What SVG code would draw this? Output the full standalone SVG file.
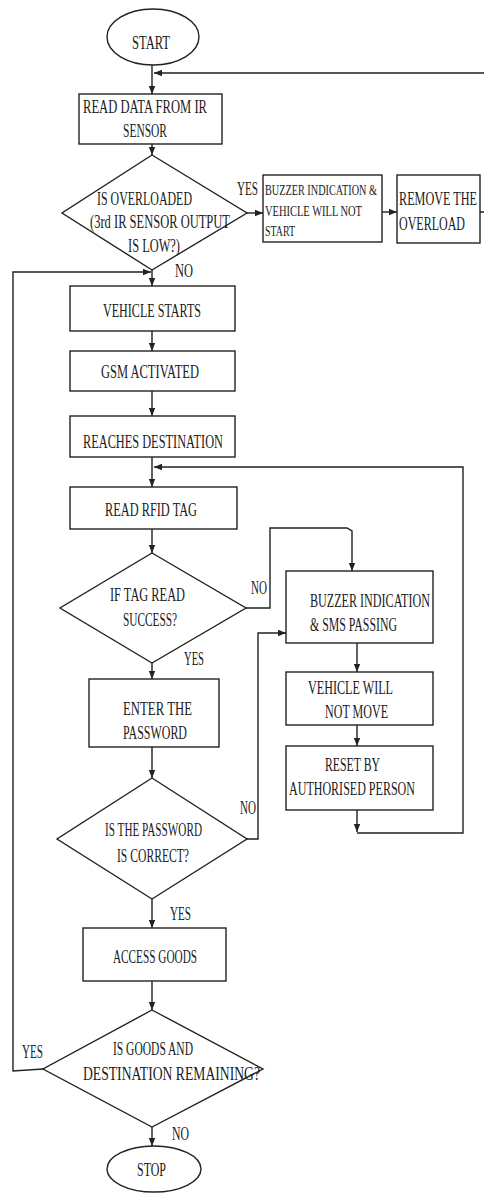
<svg xmlns="http://www.w3.org/2000/svg" width="484" height="1193" viewBox="0 0 484 1193">
<defs>
<style>
.s{fill:#fff;stroke:#222;stroke-width:1.4}
.c{fill:none;stroke:#222;stroke-width:1.4}
text{font-family:"Liberation Serif","Times New Roman",serif;font-size:19px;fill:#1a1a1a}
.sm{font-size:15px}
</style>
<marker id="a" markerUnits="userSpaceOnUse" markerWidth="8" markerHeight="8" viewBox="0 0 8 8" refX="8" refY="4" orient="auto">
<path d="M0,0.8 L8,4 L0,7.2 Z" fill="#222"/>
</marker>
</defs>
<rect width="484" height="1193" fill="#fff"/>
<g id="connectors">
<path class="c" d="M152,65 V94" marker-end="url(#a)"/>
<path class="c" d="M480,212 H487 V73 H154" marker-end="url(#a)"/>
<path class="c" d="M152,144 V155" marker-end="url(#a)"/>
<path class="c" d="M247,213 H263" marker-end="url(#a)"/>
<path class="c" d="M382,212 H397" marker-end="url(#a)"/>
<path class="c" d="M152,270 V286" marker-end="url(#a)"/>
<path class="c" d="M43,1069 L13,1071 V272 H151" marker-end="url(#a)"/>
<path class="c" d="M152,331 V351" marker-end="url(#a)"/>
<path class="c" d="M152,391 V416" marker-end="url(#a)"/>
<path class="c" d="M152,457 V487" marker-end="url(#a)"/>
<path class="c" d="M357,810 V832" marker-end="url(#a)"/>
<path class="c" d="M357,833 H463 V467 H154" marker-end="url(#a)"/>
<path class="c" d="M152,529 V553" marker-end="url(#a)"/>
<path class="c" d="M246,608 H270 V528 H347 L352,531 V571" marker-end="url(#a)"/>
<path class="c" d="M152,663 V679" marker-end="url(#a)"/>
<path class="c" d="M357,643 V672" marker-end="url(#a)"/>
<path class="c" d="M357,725 V746" marker-end="url(#a)"/>
<path class="c" d="M152,747 V778" marker-end="url(#a)"/>
<path class="c" d="M247,839 H258 V633 H286" marker-end="url(#a)"/>
<path class="c" d="M152,899 V928" marker-end="url(#a)"/>
<path class="c" d="M152,981 V1010" marker-end="url(#a)"/>
<path class="c" d="M152,1127 V1146" marker-end="url(#a)"/>
</g>
<g id="start">
<ellipse class="s" cx="153" cy="37" rx="46" ry="28"/>
<text x="132" y="49" textLength="38" lengthAdjust="spacingAndGlyphs">START</text>
</g>
<g id="read-ir">
<rect class="s" x="79" y="94" width="143" height="50"/>
<text x="83" y="113" textLength="124" lengthAdjust="spacingAndGlyphs">READ DATA FROM IR</text>
<text x="123" y="137" textLength="44" lengthAdjust="spacingAndGlyphs">SENSOR</text>
</g>
<g id="overloaded">
<polygon class="s" points="152,155 247,213 152,270 62,213"/>
<text x="97" y="205" textLength="95" lengthAdjust="spacingAndGlyphs">IS OVERLOADED</text>
<text x="90" y="228" textLength="140" lengthAdjust="spacingAndGlyphs">(3rd IR SENSOR OUTPUT</text>
<text x="128" y="252" textLength="52" lengthAdjust="spacingAndGlyphs">IS LOW?)</text>
<text x="237" y="195" textLength="21" lengthAdjust="spacingAndGlyphs">YES</text>
<text x="175" y="277" textLength="18" lengthAdjust="spacingAndGlyphs">NO</text>
</g>
<g id="buzzer-start">
<rect class="s" x="263" y="175" width="119" height="67"/>
<text class="sm" x="265" y="195" textLength="112" lengthAdjust="spacingAndGlyphs">BUZZER INDICATION &amp;</text>
<text class="sm" x="265" y="216" textLength="97" lengthAdjust="spacingAndGlyphs">VEHICLE WILL NOT</text>
<text class="sm" x="265" y="236" textLength="30" lengthAdjust="spacingAndGlyphs">START</text>
</g>
<g id="remove-overload">
<rect class="s" x="397" y="175" width="83" height="68"/>
<text x="399" y="205" textLength="78" lengthAdjust="spacingAndGlyphs">REMOVE THE</text>
<text x="399" y="230" textLength="66" lengthAdjust="spacingAndGlyphs">OVERLOAD</text>
</g>
<g id="vehicle-starts">
<rect class="s" x="70" y="286" width="165" height="45"/>
<text x="103" y="317" textLength="98" lengthAdjust="spacingAndGlyphs">VEHICLE STARTS</text>
</g>
<g id="gsm">
<rect class="s" x="70" y="351" width="165" height="40"/>
<text x="101" y="378" textLength="98" lengthAdjust="spacingAndGlyphs">GSM ACTIVATED</text>
</g>
<g id="reaches">
<rect class="s" x="70" y="416" width="165" height="41"/>
<text x="83" y="448" textLength="140" lengthAdjust="spacingAndGlyphs">REACHES DESTINATION</text>
</g>
<g id="read-rfid">
<rect class="s" x="70" y="487" width="167" height="42"/>
<text x="105" y="516" textLength="92" lengthAdjust="spacingAndGlyphs">READ RFID TAG</text>
</g>
<g id="tag-success">
<polygon class="s" points="152,553 246,608 152,663 60,608"/>
<text x="110" y="601" textLength="75" lengthAdjust="spacingAndGlyphs">IF TAG READ</text>
<text x="123" y="626" textLength="54" lengthAdjust="spacingAndGlyphs">SUCCESS?</text>
<text x="251" y="594" textLength="16" lengthAdjust="spacingAndGlyphs">NO</text>
<text x="184" y="665" textLength="20" lengthAdjust="spacingAndGlyphs">YES</text>
</g>
<g id="buzzer-sms">
<rect class="s" x="286" y="571" width="147" height="72"/>
<text x="310" y="607" textLength="120" lengthAdjust="spacingAndGlyphs">BUZZER INDICATION</text>
<text x="310" y="631" textLength="87" lengthAdjust="spacingAndGlyphs">&amp; SMS PASSING</text>
</g>
<g id="not-move">
<rect class="s" x="286" y="672" width="147" height="53"/>
<text x="308" y="694" textLength="85" lengthAdjust="spacingAndGlyphs">VEHICLE WILL</text>
<text x="325" y="718" textLength="63" lengthAdjust="spacingAndGlyphs">NOT MOVE</text>
</g>
<g id="reset">
<rect class="s" x="286" y="746" width="147" height="64"/>
<text x="325" y="771" textLength="55" lengthAdjust="spacingAndGlyphs">RESET BY</text>
<text x="289" y="795" textLength="126" lengthAdjust="spacingAndGlyphs">AUTHORISED PERSON</text>
</g>
<g id="enter-password">
<rect class="s" x="89" y="679" width="130" height="68"/>
<text x="123" y="715" textLength="69" lengthAdjust="spacingAndGlyphs">ENTER THE</text>
<text x="123" y="739" textLength="64" lengthAdjust="spacingAndGlyphs">PASSWORD</text>
</g>
<g id="password-correct">
<polygon class="s" points="152,778 247,839 152,899 57,839"/>
<text x="105" y="836" textLength="97" lengthAdjust="spacingAndGlyphs">IS THE PASSWORD</text>
<text x="117" y="862" textLength="72" lengthAdjust="spacingAndGlyphs">IS CORRECT?</text>
<text x="240" y="814" textLength="16" lengthAdjust="spacingAndGlyphs">NO</text>
<text x="170" y="920" textLength="21" lengthAdjust="spacingAndGlyphs">YES</text>
</g>
<g id="access-goods">
<rect class="s" x="83" y="928" width="143" height="53"/>
<text x="113" y="963" textLength="84" lengthAdjust="spacingAndGlyphs">ACCESS GOODS</text>
</g>
<g id="remaining">
<polygon class="s" points="152,1010 263,1069 152,1127 43,1069"/>
<text x="113" y="1055" textLength="80" lengthAdjust="spacingAndGlyphs">IS GOODS AND</text>
<text x="83" y="1080" textLength="177" lengthAdjust="spacingAndGlyphs">DESTINATION REMAINING?</text>
<text x="22" y="1058" textLength="21" lengthAdjust="spacingAndGlyphs">YES</text>
<text x="172" y="1140" textLength="17" lengthAdjust="spacingAndGlyphs">NO</text>
</g>
<g id="stop">
<ellipse class="s" cx="154" cy="1169" rx="47" ry="23"/>
<text x="137" y="1176" textLength="29" lengthAdjust="spacingAndGlyphs">STOP</text>
</g>
</svg>
